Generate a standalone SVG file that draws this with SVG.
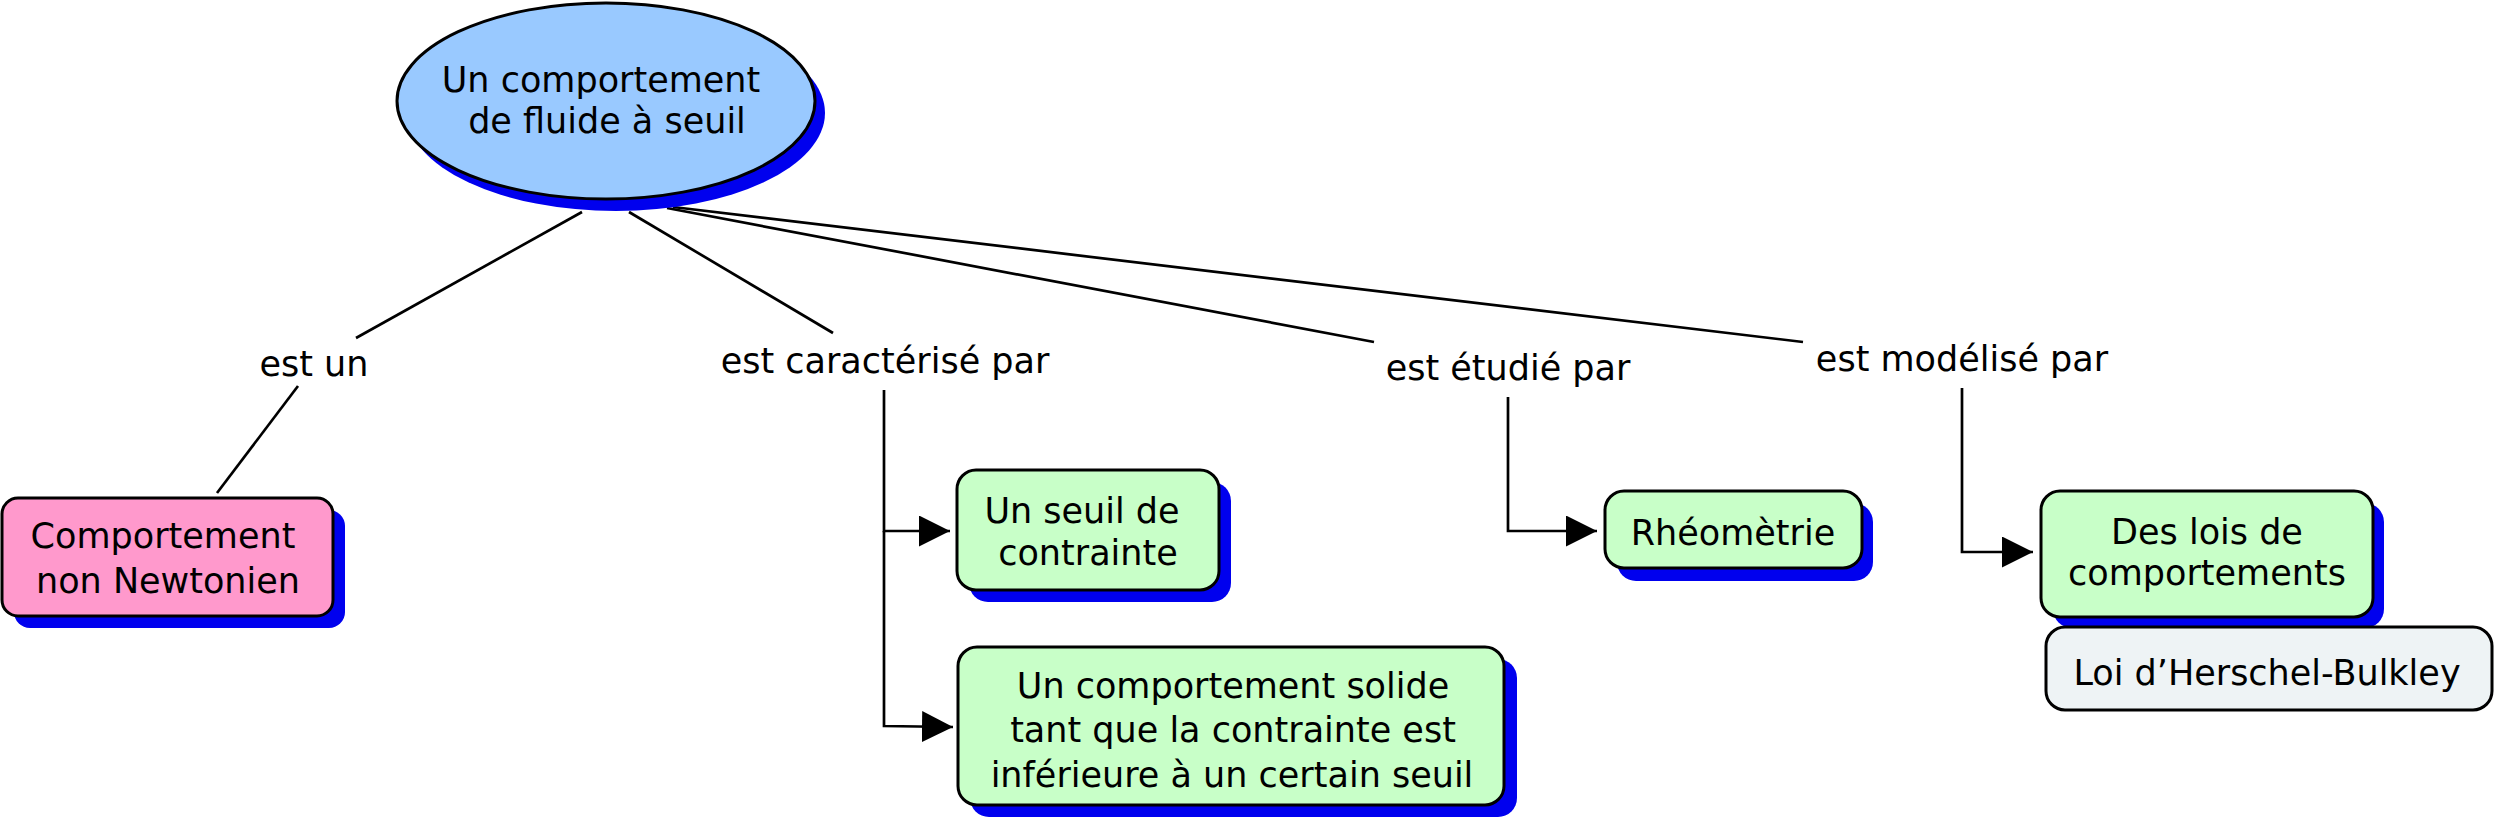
<svg xmlns="http://www.w3.org/2000/svg" width="2501" height="828" viewBox="0 0 2501 828">
<defs>
<marker id="arr" markerUnits="userSpaceOnUse" markerWidth="32" markerHeight="32" refX="31" refY="15.5" orient="auto">
<path d="M0,0 L31,15.5 L0,31 Z" fill="#000"/>
</marker>
</defs>
<style>
text{font-family:"DejaVu Sans","Verdana",sans-serif;font-size:35px;fill:#000;text-anchor:middle}
.sh{fill:#0000EE}
.box{stroke:#000;stroke-width:3}
.con{stroke:#000;stroke-width:2.7;fill:none}
</style>
<rect width="2501" height="828" fill="#fff"/>
<g id="connectors">
<line class="con" x1="582" y1="212" x2="356" y2="338"/>
<line class="con" x1="298" y1="386" x2="217" y2="493"/>
<line class="con" x1="629" y1="212" x2="833" y2="333"/>
<line class="con" x1="667" y1="208" x2="1374" y2="342"/>
<line class="con" x1="673" y1="207" x2="1803" y2="342"/>
<polyline class="con" points="884,390 884,531 950,531" marker-end="url(#arr)"/>
<polyline class="con" points="884,531 884,726 953,727" marker-end="url(#arr)"/>
<polyline class="con" points="1508,397 1508,531 1597,531" marker-end="url(#arr)"/>
<polyline class="con" points="1962,388 1962,552 2033,552" marker-end="url(#arr)"/>
</g>
<g id="n-main">
<ellipse class="sh" cx="616" cy="113" rx="209" ry="98"/>
<ellipse class="box" cx="606" cy="101" rx="209" ry="98" fill="#99C9FF"/>
<text x="601" y="92">Un comportement</text>
<text x="607" y="133">de fluide à seuil</text>
</g>
<g id="l-estun"><text x="314" y="376">est un</text></g>
<g id="l-caract"><text x="885" y="373">est caractérisé par</text></g>
<g id="l-etudie"><text x="1508" y="380">est étudié par</text></g>
<g id="l-modelise"><text x="1962" y="371">est modélisé par</text></g>
<g id="n-nonnewt">
<rect class="sh" x="14" y="510" width="331" height="118" rx="16"/>
<rect class="box" x="2" y="498" width="331" height="118" rx="16" fill="#FF99CC"/>
<text x="163" y="548">Comportement</text>
<text x="168" y="593">non Newtonien</text>
</g>
<g id="n-seuil">
<rect class="sh" x="969" y="482" width="262" height="120" rx="19"/>
<rect class="box" x="957" y="470" width="262" height="120" rx="19" fill="#C8FFC8"/>
<text x="1082" y="523">Un seuil de</text>
<text x="1088" y="565">contrainte</text>
</g>
<g id="n-solide">
<rect class="sh" x="970" y="659" width="547" height="158" rx="19"/>
<rect class="box" x="958" y="647" width="546" height="158" rx="19" fill="#C8FFC8"/>
<text x="1233" y="698">Un comportement solide</text>
<text x="1233" y="742">tant que la contrainte est</text>
<text x="1232" y="787">inférieure à un certain seuil</text>
</g>
<g id="n-rheo">
<rect class="sh" x="1617" y="503" width="256" height="78" rx="19"/>
<rect class="box" x="1605" y="491" width="257" height="77" rx="19" fill="#C8FFC8"/>
<text x="1733" y="545">Rhéomètrie</text>
</g>
<g id="n-lois">
<rect class="sh" x="2053" y="503" width="331" height="125" rx="19"/>
<rect class="box" x="2041" y="491" width="332" height="126" rx="19" fill="#C8FFC8"/>
<text x="2207" y="544">Des lois de</text>
<text x="2207" y="585">comportements</text>
</g>
<g id="n-herschel">
<rect class="box" x="2046" y="627" width="446" height="83" rx="19" fill="#EEF3F5"/>
<text x="2267" y="685">Loi d’Herschel-Bulkley</text>
</g>
</svg>
